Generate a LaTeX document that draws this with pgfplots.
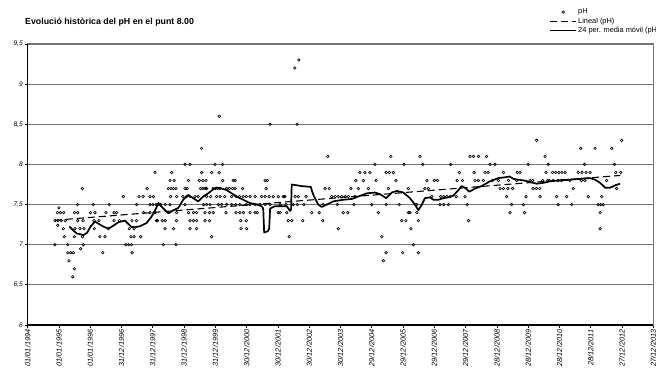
\documentclass[border=0pt]{standalone}
\usepackage{fontspec}
\setmainfont{Liberation Sans}
\usepackage{pgfplots}
\pgfplotsset{compat=1.18}
\pgfplotsset{
  lineleg/.style={legend image code/.code={\draw[##1] (0pt,0pt) -- (26pt,0pt);}},
  markleg/.style={legend image code/.code={\draw[mark repeat=2,mark phase=2,##1] plot coordinates {(0pt,0pt) (13pt,0pt) (26pt,0pt)};}},
}
\begin{document}
\begin{tikzpicture}[x=1pt,y=1pt]
\node[anchor=west, font=\bfseries\fontsize{8.8}{10}\selectfont, inner sep=0pt] at (25,345) {Evolució històrica del pH en el punt 8.00};
\begin{axis}[
  at={(27.7pt,42pt)}, anchor=south west,
  scale only axis, width=625.6pt, height=281pt,
  xmin=0, xmax=20, ymin=6, ymax=9.5,
  xtick={0,...,20},
  xticklabels={01/01/1994,01/01/1995,01/01/1996,31/12/1996,31/12/1997,31/12/1998,31/12/1999,30/12/2000,30/12/2001,30/12/2002,30/12/2003,29/12/2004,29/12/2005,29/12/2006,29/12/2007,28/12/2008,28/12/2009,28/12/2010,28/12/2011,27/12/2012,27/12/2013},
  ytick={6,6.5,7,7.5,8,8.5,9,9.5},
  yticklabels={6,{6,5},7,{7,5},8,{8,5},9,{9,5}},
  xticklabel style={rotate=90, anchor=east, font=\fontsize{7.3}{8}\selectfont\itshape, inner sep=1.5pt},
  yticklabel style={font=\fontsize{6.6}{7}\selectfont\itshape, inner sep=1.8pt},
  tick align=outside, tick pos=left,
  major tick length=3pt,
  tick style={black, line width=0.8pt},
  ymajorgrids,
  major grid style={black!55, line width=1.2pt},
  extra y ticks={8.5}, extra y tick labels={},
  extra y tick style={grid style={black, line width=1.1pt}},
  axis line style={black!55, line width=1.2pt},
  clip=false,
  legend style={at={(axis description cs:0.8335,1.13)}, anchor=north west, draw=none, fill=none,
    font=\fontsize{7.4}{8}\selectfont, inner sep=0pt, row sep=0pt,
    nodes={inner sep=1.2pt}},
  legend cell align=left,
]
\addplot[only marks, mark=o, mark size=1.3pt, mark options={line width=0.6pt, black, fill=white}, markleg]
coordinates {
(0.87,7.0)(0.87,7.3)(0.95,7.4)(0.96,7.24)(0.97,7.3)(1.0,7.46)(1.05,7.4)(1.07,7.3)(1.14,7.2)(1.15,7.4)(1.17,7.1)(1.2,7.3)(1.28,7.0)(1.28,6.9)(1.32,6.8)(1.37,6.9)(1.44,6.6)(1.46,6.9)(1.49,6.7)(1.49,7.1)(1.5,7.4)(1.51,7.2)(1.59,7.5)(1.6,7.4)(1.6,7.3)(1.67,7.2)(1.69,6.95)(1.75,7.7)(1.75,7.1)(1.77,7.3)(1.78,7.0)(1.8,7.2)(2.01,7.4)(2.1,7.5)(2.12,7.3)(2.13,7.2)(2.15,7.4)(2.28,7.3)(2.31,7.1)(2.4,6.9)(2.47,7.1)(2.5,7.4)(2.58,7.2)(2.61,7.5)(2.76,7.4)(2.76,7.3)(2.84,7.4)(2.93,7.3)(3.06,7.6)(3.14,7.0)(3.23,7.0)(3.25,7.2)(3.3,7.1)(3.32,7.0)(3.33,7.3)(3.34,6.9)(3.4,7.2)(3.4,7.1)(3.48,7.5)(3.48,7.3)(3.56,7.6)(3.61,7.1)(3.69,7.6)(3.7,7.4)(3.82,7.7)(4.02,7.6)(4.07,7.9)(4.07,7.4)(4.12,7.3)
(3.91,7.6)(3.91,7.5)(3.91,7.4)(4.0,7.5)(4.04,7.4)(4.1,7.5)(4.15,7.3)(4.2,7.5)(4.25,7.5)(4.3,7.3)(4.34,7.0)(4.39,7.2)(4.4,7.3)(4.4,7.5)(4.5,7.7)(4.55,7.8)(4.55,7.5)(4.57,7.6)(4.58,7.7)(4.6,7.9)(4.66,7.7)(4.66,7.2)(4.68,7.8)(4.74,7.7)(4.74,7.0)(4.76,7.6)(4.76,7.4)(4.76,7.3)(4.96,7.6)(5.03,8.0)(5.03,7.7)(5.03,7.5)(5.08,7.6)(5.1,7.7)(5.14,7.8)(5.14,7.4)(5.19,8.0)(5.19,7.6)(5.19,7.3)(5.19,7.2)(5.3,7.4)(5.3,7.3)(5.35,7.6)(5.4,7.4)(5.4,7.3)(5.4,7.2)(5.45,7.6)(5.49,7.8)(5.53,7.7)(5.56,8.2)(5.56,7.9)(5.6,7.8)(5.6,7.7)(5.62,7.5)(5.67,7.7)(5.67,7.4)(5.67,7.3)(5.7,7.8)(5.72,7.7)(5.72,7.6)(5.72,7.5)(5.81,7.4)(5.81,7.3)(5.83,7.5)(5.85,7.6)(5.88,7.9)(5.88,7.1)(5.93,7.7)(5.93,7.4)(5.99,8.0)(6.0,7.7)(6.04,7.6)(6.07,7.7)(6.1,7.5)(6.12,7.9)(6.13,8.6)(6.15,7.7)(6.15,7.6)(6.2,7.5)(6.23,8.0)(6.23,7.8)(6.3,7.6)(6.34,7.4)(6.36,7.7)(6.36,7.5)(6.45,7.7)(6.52,7.6)(6.52,7.5)(6.55,7.7)(6.57,7.8)(6.63,7.8)(6.63,7.7)(6.65,7.5)(6.66,7.6)(6.66,7.4)(6.77,7.6)(6.78,7.5)(6.78,7.4)(6.81,7.3)(6.82,7.2)(6.87,7.7)(6.89,7.6)(6.9,7.4)(6.99,7.6)(6.99,7.5)(6.99,7.3)(7.0,7.2)(7.1,7.5)(7.11,7.6)(7.11,7.4)(7.27,7.6)(7.27,7.5)(7.27,7.4)(7.34,7.4)(7.43,7.5)(7.48,7.6)(7.59,7.8)(7.59,7.6)(7.59,7.5)(7.62,7.7)(7.66,7.8)(7.72,7.6)(7.75,8.5)(7.75,7.5)(7.85,7.6)(8.01,7.6)(8.01,7.4)(8.07,7.5)
(8.17,7.6)(8.07,7.4)(8.22,7.6)(8.26,7.5)(8.28,7.4)(8.33,7.3)(8.36,7.1)(8.44,7.3)(8.49,7.5)(8.55,7.6)(8.54,9.2)(8.62,7.5)(8.61,8.5)(8.65,7.6)(8.67,9.3)(8.79,7.3)(8.83,7.5)(8.9,7.6)(9.08,7.4)(9.32,7.4)(9.43,7.3)(9.45,7.5)(9.51,7.7)(9.59,8.1)(9.64,7.7)(9.72,7.6)(9.83,7.6)(9.9,7.5)(9.93,7.6)(9.93,7.2)(10.04,7.6)(10.09,7.4)(10.15,7.6)(10.23,7.4)(10.25,7.6)(10.33,7.7)(10.43,7.5)(10.46,7.6)(10.49,7.8)(10.57,7.7)(10.62,7.9)(10.73,7.8)(10.78,7.9)(10.89,7.7)(10.94,7.9)(11.0,7.5)(11.1,8.0)(11.14,7.8)(11.21,7.4)(11.32,7.1)(11.37,6.8)(11.46,7.9)(11.46,7.5)(11.46,6.9)(11.53,7.7)(11.56,7.9)(11.61,8.1)(11.69,7.9)(11.77,7.8)(11.88,7.5)(11.96,7.3)(11.99,6.9)(12.03,8.0)(12.09,7.3)(12.17,7.7)(12.17,7.4)(12.25,7.2)(12.33,7.0)(12.38,7.5)(12.44,7.4)(12.49,7.3)(12.49,6.9)
(12.22,7.4)(12.44,7.5)(12.54,8.1)(12.63,8.0)(12.7,7.7)(12.76,7.8)(12.81,7.7)(12.92,7.6)(13.0,7.8)(13.1,7.8)(13.18,7.5)(13.2,7.6)(13.3,7.6)(13.3,7.5)(13.4,7.6)(13.45,7.5)(13.5,7.6)(13.52,8.0)(13.7,7.6)(13.73,7.8)(13.8,7.9)(13.9,7.8)(13.98,7.6)(14.05,7.5)(14.09,7.3)(14.14,8.1)(14.25,8.1)(14.27,7.9)(14.3,7.8)(14.41,8.1)(14.41,7.8)(14.57,7.8)(14.62,7.9)(14.67,8.1)(14.72,7.9)(14.78,8.0)(14.86,7.8)(14.94,8.0)(15.05,7.8)(15.1,7.7)(15.21,7.9)(15.21,7.7)(15.31,7.6)(15.35,7.7)(15.37,7.8)(15.42,7.4)(15.47,7.5)(15.5,7.7)(15.63,7.8)(15.65,7.9)(15.74,7.9)(15.85,7.5)(15.88,7.4)(15.93,7.6)(16.0,8.0)(16.06,7.8)(16.14,7.8)(16.16,7.7)(16.26,7.7)(16.27,8.3)(16.37,7.7)(16.38,7.6)(16.46,7.8)(16.54,8.1)(16.57,7.9)
(16.62,7.8)(16.64,8.0)(16.68,7.8)(16.78,7.9)(16.8,7.8)(16.88,7.9)(16.91,7.6)(16.96,7.8)(16.96,7.5)(16.98,7.9)(17.07,7.8)(17.08,7.9)(17.18,7.9)(17.23,7.6)(17.33,7.8)(17.39,7.5)(17.44,7.7)(17.6,7.9)(17.68,8.2)(17.7,7.8)(17.72,7.9)(17.8,8.0)(17.81,7.8)(17.85,7.9)(17.92,7.6)(17.98,7.9)(18.14,8.2)(18.24,7.5)(18.3,7.4)(18.3,7.2)(18.32,7.5)(18.35,7.6)(18.4,7.5)(18.51,7.8)(18.67,8.2)(18.76,8.0)(18.8,7.9)(18.83,7.7)(18.96,7.9)(18.99,8.3)
};
\addlegendentry{pH}
\addplot[black, line width=1.1pt, dash pattern=on 7pt off 4pt, lineleg]
coordinates {(0.87,7.305) (18.95,7.863)};
\addlegendentry{Lineal (pH)}
\addplot[black, line width=1.7pt, line join=round, lineleg]
coordinates {
(1.33,7.23)(1.45,7.18)(1.57,7.14)(1.68,7.13)(1.78,7.12)(1.9,7.15)(2.0,7.22)(2.15,7.29)(2.31,7.25)(2.45,7.22)(2.58,7.2)(2.75,7.24)(2.9,7.28)(3.11,7.3)(3.32,7.22)(3.45,7.22)(3.59,7.23)(3.8,7.27)(3.96,7.35)(4.1,7.45)(4.18,7.52)(4.34,7.45)(4.5,7.39)(4.66,7.43)(4.82,7.46)(4.97,7.56)(5.13,7.62)(5.29,7.58)(5.45,7.54)(5.61,7.6)(5.77,7.64)(5.93,7.69)(6.05,7.71)(6.2,7.7)(6.36,7.68)(6.52,7.64)(6.68,7.6)(6.89,7.56)(7.1,7.52)(7.32,7.5)(7.48,7.48)(7.53,7.45)(7.56,7.15)(7.68,7.17)(7.72,7.2)(7.75,7.45)(7.9,7.48)(8.12,7.48)(8.28,7.48)(8.39,7.42)(8.42,7.44)(8.44,7.75)(8.76,7.73)(9.05,7.72)(9.13,7.62)(9.29,7.5)(9.4,7.47)(9.56,7.5)(9.77,7.54)(10.09,7.56)(10.36,7.57)(10.57,7.6)(10.84,7.64)(11.1,7.65)(11.26,7.63)(11.46,7.58)(11.64,7.65)(11.8,7.67)(12.01,7.65)(12.22,7.58)(12.38,7.5)(12.49,7.43)(12.6,7.5)(12.7,7.58)(12.86,7.59)(12.97,7.56)(13.13,7.56)(13.29,7.58)(13.45,7.59)(13.6,7.61)(13.77,7.68)(13.87,7.73)(13.98,7.71)(14.12,7.66)(14.3,7.7)(14.51,7.73)(14.78,7.79)(15.05,7.83)(15.26,7.84)(15.4,7.85)(15.53,7.82)(15.68,7.81)(15.87,7.8)(16.06,7.78)(16.27,7.76)(16.48,7.77)(16.7,7.79)(17.02,7.8)(17.34,7.81)(17.66,7.82)(17.98,7.83)(18.14,7.81)(18.3,7.77)(18.46,7.71)(18.62,7.71)(18.78,7.74)(18.94,7.76)
};
\addlegendentry{24 per. media móvil (pH)}
\draw[black, line width=1.1pt] (rel axis cs:0,1) -- (rel axis cs:0,0) -- (rel axis cs:1,0);
\end{axis}
\pgfresetboundingbox
\useasboundingbox (0,0) rectangle (656,367);
\end{tikzpicture}
\end{document}
